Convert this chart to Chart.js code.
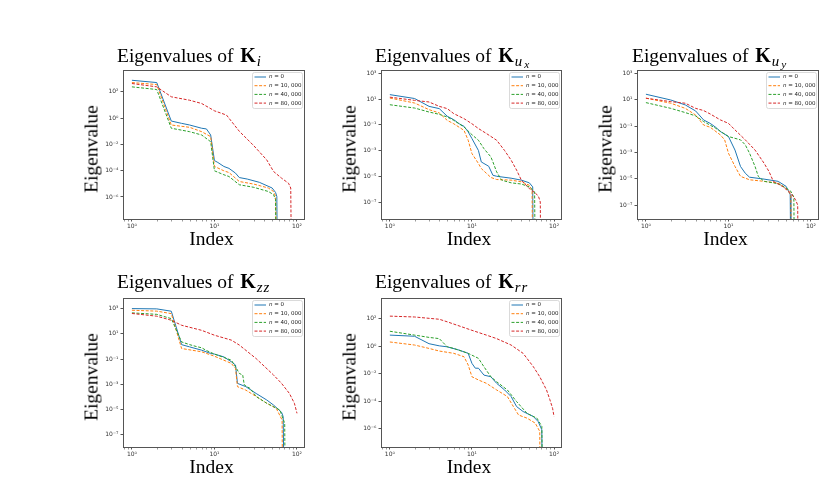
<!DOCTYPE html>
<html>
<head>
<meta charset="utf-8">
<script src="https://cdn.jsdelivr.net/npm/chart.js@4.4.0/dist/chart.umd.min.js"></script>
<style>
  body { margin: 0; background: #fff; width: 825px; height: 481px; overflow: hidden; position: relative; font-family: "Liberation Serif", serif; }
  .panel { position: absolute; }
  .txt { position: absolute; font-size: 19px; line-height: 19px; white-space: nowrap; color: #000; }
  .ttl { font-size: 19.5px; }
  .ttl b { margin-left: 2px; font-size: 20px; }
  .txt sub { font-style: italic; font-size: 76%; vertical-align: -4px; line-height: 0; margin-left: 1px; letter-spacing: 1px; }
  .txt sub sub { font-size: 76%; vertical-align: -2px; }
  .ylab { transform: translate(-50%, -50%) rotate(-90deg); font-size: 19.5px; }
  .xlab { transform: translateX(-50%); font-size: 19.5px; }
</style>
</head>
<body>
<script>
// legend labels
const seriesLabels = ["n = 0", "n = 10, 000", "n = 40, 000", "n = 80, 000"];
// tick exponents (labels are 10^e)
const xExp = [0, 1, 2];
const kiYExp = [2, 0, -2, -4, -6];
const kuxYExp = [3, 1, -1, -3, -5, -7];
const kuyYExp = [3, 1, -1, -3, -5, -7];
const kzzYExp = [3, 1, -1, -3, -5, -7];
const krrYExp = [2, 0, -2, -4, -6];

// [index, eigenvalue]
const kiN0 = [[1, 760], [2, 510], [3, 0.60], [4, 0.40], [5, 0.30], [7, 0.17], [8, 0.15], [9, 0.052], [10, 5.9e-4], [11, 4.2e-4], [13, 2.1e-4], [15, 1.5e-4], [18, 6.5e-5], [20, 3.0e-5], [25, 2.3e-5], [35, 1.3e-5], [50, 4.8e-6], [55, 2.2e-6], [57, 1.1e-6], [58, 1e-12]];
const kiN10k = [[1, 510], [2, 360], [3, 0.30], [5, 0.20], [7, 0.093], [9, 0.039], [10, 2.1e-4], [13, 9.8e-5], [15, 7.2e-5], [20, 1.5e-5], [30, 9.5e-6], [45, 4.8e-6], [52, 2.6e-6], [55, 1.1e-6], [57, 1e-12]];
const kiN40k = [[1, 240], [2, 150], [3, 0.17], [5, 0.093], [7, 0.052], [9, 0.016], [10, 9.8e-5], [13, 4.9e-5], [15, 3.6e-5], [20, 8.5e-6], [30, 5.4e-6], [45, 2.6e-6], [52, 1.5e-6], [55, 6.2e-7], [56, 1e-12]];
const kiN80k = [[1, 430], [2, 240], [3, 42], [5, 23], [7, 13], [10, 3.6], [14, 1.7], [20, 0.1], [30, 7.9e-3], [43, 6.6e-4], [52, 8.7e-5], [65, 2.7e-5], [79, 1.1e-5], [84, 4.8e-6], [86, 1e-12]];

const kuxN0 = [[1, 22], [2, 11], [3, 2.7], [4, 1.8], [5, 0.46], [6, 0.25], [7, 0.12], [8, 0.076], [9, 0.028], [10, 8.5e-3], [12, 1.0e-3], [13, 1.3e-4], [14, 9.8e-5], [16, 6.0e-5], [18, 1.2e-5], [20, 1.0e-5], [30, 7.1e-6], [40, 5.0e-6], [50, 3.1e-6], [55, 1.5e-6], [56, 1e-12]];
const kuxN10k = [[1, 12], [2, 4.9], [3, 1.5], [4, 0.83], [5, 0.22], [6, 0.12], [8, 0.037], [9, 6.3e-3], [10, 5.8e-4], [12, 9.8e-5], [13, 4.0e-5], [15, 1.7e-5], [17, 8.1e-6], [20, 5.6e-6], [30, 5.0e-6], [40, 3.7e-6], [50, 2.0e-6], [54, 8.3e-7], [55, 1e-12]];
const kuxN40k = [[1, 3.6], [2, 2.0], [3, 0.98], [4, 0.65], [5, 0.40], [6, 0.22], [8, 0.068], [10, 0.017], [12, 6.3e-3], [14, 1.4e-3], [17, 3.2e-4], [18, 1.3e-4], [20, 2.2e-5], [23, 5.0e-6], [30, 3.1e-6], [40, 2.5e-6], [50, 1.5e-6], [58, 6.2e-7], [59, 1e-12]];
const kuxN80k = [[1, 14], [2, 7.9], [3, 5.9], [4, 2.7], [5, 1.8], [6, 0.74], [8, 0.30], [10, 0.12], [12, 0.051], [15, 0.021], [20, 6.3e-3], [25, 1.0e-3], [30, 1.8e-4], [35, 3.0e-5], [40, 5.0e-6], [50, 1.1e-6], [60, 4.7e-7], [65, 2.5e-7], [68, 1e-7], [69, 1e-12]];

const kuyN0 = [[1, 26], [2, 9.5], [3, 4.0], [4, 1.4], [5, 0.29], [6, 0.16], [7, 0.081], [8, 0.038], [10, 0.016], [12, 1.5e-3], [14, 8.5e-5], [16, 2.6e-5], [18, 1.3e-5], [27, 9.3e-6], [40, 6.3e-6], [50, 2.6e-6], [56, 6.0e-7], [57, 1e-12]];
const kuyN10k = [[1, 13], [2, 5.4], [3, 2.2], [4, 0.69], [5, 0.12], [6, 0.081], [8, 0.021], [9, 8.9e-3], [10, 8.7e-4], [12, 8.5e-5], [14, 1.5e-5], [18, 8.3e-6], [27, 6.3e-6], [40, 4.7e-6], [50, 1.9e-6], [57, 6.0e-7], [58, 1e-12]];
const kuyN40k = [[1, 6.0], [2, 2.2], [3, 1.05], [4, 0.59], [5, 0.22], [7, 0.068], [10, 0.016], [14, 8.9e-3], [16, 3.7e-3], [18, 8.7e-4], [21, 8.5e-5], [23, 1.5e-5], [27, 6.3e-6], [40, 4.2e-6], [50, 1.9e-6], [57, 1.1e-6], [62, 4.0e-7], [63, 1e-12]];
const kuyN80k = [[1, 13], [2, 7.1], [3, 5.4], [4, 2.2], [5, 1.5], [6, 0.83], [8, 0.29], [10, 0.16], [12, 0.051], [16, 8.9e-3], [21, 1.5e-3], [27, 1.5e-4], [31, 3.5e-5], [35, 6.3e-6], [45, 2.6e-6], [57, 8.1e-7], [65, 2.5e-7], [69, 1e-7], [70, 1e-12]];

const kzzN0 = [[1, 1000], [2, 950], [3, 620], [4, 1.4], [5, 0.93], [7, 0.51], [9, 0.28], [10, 0.25], [13, 0.15], [16, 0.062], [18, 0.034], [19, 1.2e-3], [24, 6.6e-4], [32, 1.9e-4], [43, 5.8e-5], [52, 2.3e-5], [65, 6.2e-6], [68, 2.8e-6], [70, 1e-12]];
const kzzN10k = [[1, 740], [2, 630], [3, 400], [4, 0.69], [7, 0.38], [10, 0.17], [16, 0.046], [18, 0.018], [19, 6.6e-4], [24, 3.5e-4], [32, 1.1e-4], [43, 3.2e-5], [56, 1.3e-5], [66, 1.5e-6], [67, 1e-12]];
const kzzN40k = [[1, 460], [2, 350], [3, 160], [4, 2.3], [5, 1.4], [6, 1.0], [7, 0.79], [8, 0.48], [10, 0.25], [16, 0.083], [18, 0.025], [20, 7.4e-3], [22, 5.5e-3], [23, 8.9e-4], [27, 4.8e-4], [32, 1.1e-4], [43, 3.2e-5], [62, 9.3e-6], [71, 8.3e-7], [72, 1e-12]];
const kzzN80k = [[1, 410], [2, 250], [3, 120], [4, 48], [7, 19], [10, 7.8], [16, 3.2], [20, 1.3], [32, 0.11], [52, 5.5e-3], [65, 1.2e-3], [81, 1.9e-4], [93, 3.2e-5], [100, 5.1e-6]];

const krrN0 = [[1, 6.3], [2, 5.2], [3, 1.5], [4, 1.05], [5, 0.89], [7, 0.51], [9, 0.30], [10, 0.056], [11, 0.025], [12, 0.025], [14, 7.9e-3], [17, 6.0e-3], [20, 2.0e-3], [25, 6.6e-4], [30, 2.2e-4], [35, 4.1e-5], [42, 1.8e-5], [56, 7.8e-6], [64, 3.4e-6], [71, 8.5e-7], [72, 1e-12]];
const krrN10k = [[1, 2.0], [2, 1.2], [3, 0.68], [4, 0.44], [6, 0.30], [8, 0.17], [9, 0.043], [10, 6.0e-3], [12, 3.5e-3], [15, 2.0e-3], [20, 6.6e-4], [27, 2.2e-4], [32, 4.1e-5], [37, 1.0e-5], [47, 5.9e-6], [59, 2.6e-6], [67, 6.5e-7], [68, 1e-12]];
const krrN40k = [[1, 12], [2, 6.3], [3, 4.3], [4, 3.5], [5, 0.89], [6, 0.68], [9, 0.30], [10, 0.22], [12, 0.13], [14, 0.032], [17, 6.0e-3], [20, 2.6e-3], [27, 6.6e-4], [35, 9.5e-5], [47, 1.3e-5], [62, 5.9e-6], [71, 1.5e-6], [73, 1e-12]];
const krrN80k = [[1, 150], [2, 130], [4, 89], [5, 58], [10, 14], [15, 6.3], [20, 3.5], [30, 1.2], [42, 0.30], [56, 0.032], [67, 6.0e-3], [81, 6.6e-4], [89, 1.3e-4], [96, 3.1e-5], [100, 7.8e-6]];

const colors = ["#1f77b4", "#ff7f0e", "#2ca02c", "#d62728"];

const panels = [
  { box: [123, 70, 181, 149], yMin: 2.1e-8, yMax: 4.6e3, yExp: kiYExp, series: [kiN0, kiN10k, kiN40k, kiN80k], title: 'Eigenvalues of <b>K</b><sub>i</sub>', tx: 117, ty: 46 },
  { box: [381, 70, 180, 149], yMin: 4.8e-9, yMax: 1.8e3, yExp: kuxYExp, series: [kuxN0, kuxN10k, kuxN40k, kuxN80k], title: 'Eigenvalues of <b>K</b><sub>u<sub>x</sub></sub>', tx: 375, ty: 46 },
  { box: [637, 70, 181, 149], yMin: 8.7e-9, yMax: 1.8e3, yExp: kuyYExp, series: [kuyN0, kuyN10k, kuyN40k, kuyN80k], title: 'Eigenvalues of <b>K</b><sub>u<sub>y</sub></sub>', tx: 632, ty: 46 },
  { box: [123, 298, 181, 149], yMin: 1.1e-8, yMax: 6.9e3, yExp: kzzYExp, series: [kzzN0, kzzN10k, kzzN40k, kzzN80k], title: 'Eigenvalues of <b>K</b><sub>zz</sub>', tx: 117, ty: 272 },
  { box: [381, 298, 180, 149], yMin: 4.8e-8, yMax: 3.1e3, yExp: krrYExp, series: [krrN0, krrN10k, krrN40k, krrN80k], title: 'Eigenvalues of <b>K</b><sub>rr</sub>', tx: 375, ty: 272 }
];

const SUP = { "0": "⁰", "1": "¹", "2": "²", "3": "³", "4": "⁴", "5": "⁵", "6": "⁶", "7": "⁷", "8": "⁸", "9": "⁹", "-": "⁻" };
function powLabel(v) {
  const e = String(Math.round(Math.log10(v)));
  return "10" + e.split("").map(c => SUP[c]).join("");
}

// full box around the axes, minor x ticks, legend in the upper right
const frameLegend = {
  id: "frameLegend",
  afterDatasetsDraw(chart) {
    const a = chart.chartArea;
    const ctx = chart.ctx;
    const xs = chart.scales.x;
    ctx.save();
    ctx.strokeStyle = "#555";
    ctx.lineWidth = 1;
    ctx.strokeRect(Math.round(a.left) + 0.5, Math.round(a.top) + 0.5, Math.round(a.right - a.left), Math.round(a.bottom - a.top));

    // minor ticks of the log x axis
    ctx.lineWidth = 0.6;
    ctx.beginPath();
    [0.1, 1, 10, 100].forEach(d => {
      for (let k = 2; k <= 9; k++) {
        const v = d * k;
        if (v < xs.min || v > xs.max) continue;
        const px = Math.round(xs.getPixelForValue(v)) + 0.5;
        ctx.moveTo(px, a.bottom + 1);
        ctx.lineTo(px, a.bottom + 2.5);
      }
    });
    ctx.stroke();

    const w = 50, h = 36;
    const bx = a.right - 2 - w, by = a.top + 2;
    ctx.fillStyle = "rgba(255,255,255,0.85)";
    ctx.strokeStyle = "#d0d0d0";
    ctx.lineWidth = 0.8;
    ctx.beginPath();
    ctx.roundRect(bx + 0.5, by + 0.5, w, h, 2);
    ctx.fill();
    ctx.stroke();

    chart.data.datasets.forEach((ds, i) => {
      const y = by + 5 + i * 8.7;
      ctx.strokeStyle = ds.borderColor;
      ctx.lineWidth = 1;
      ctx.setLineDash(ds.borderDash || []);
      ctx.beginPath();
      ctx.moveTo(bx + 2.5, y);
      ctx.lineTo(bx + 14, y);
      ctx.stroke();
      ctx.setLineDash([]);
      ctx.fillStyle = "#222";
      ctx.textBaseline = "middle";
      ctx.font = "italic 5.5px 'DejaVu Sans'";
      ctx.fillText("n", bx + 17, y);
      const nw = ctx.measureText("n").width;
      ctx.font = "5.5px 'DejaVu Sans'";
      ctx.fillText(ds.label.slice(1), bx + 17 + nw, y);
    });
    ctx.restore();
  }
};

const PAD_L = 40, PAD_T = 6, PAD_R = 10, PAD_B = 16;

panels.forEach(p => {
  const [left, top, w, h] = p.box;
  const div = document.createElement("div");
  div.className = "panel";
  div.style.left = (left - PAD_L) + "px";
  div.style.top = (top - PAD_T) + "px";
  const cv = document.createElement("canvas");
  cv.width = w + PAD_L + PAD_R;
  cv.height = h + PAD_T + PAD_B;
  div.appendChild(cv);
  document.body.appendChild(div);

  const t = document.createElement("div");
  t.className = "txt ttl";
  t.style.left = p.tx + "px";
  t.style.top = p.ty + "px";
  t.innerHTML = p.title;
  document.body.appendChild(t);

  const yl = document.createElement("div");
  yl.className = "txt ylab";
  yl.style.left = (left - 32.5) + "px";
  yl.style.top = (top + h / 2 + 4) + "px";
  yl.textContent = "Eigenvalue";
  document.body.appendChild(yl);

  const xl = document.createElement("div");
  xl.className = "txt xlab";
  xl.style.left = (left + w / 2 - 2) + "px";
  xl.style.top = (top + h + 10) + "px";
  xl.textContent = "Index";
  document.body.appendChild(xl);

  const tickFont = { family: "'DejaVu Sans'", size: 6 };

  new Chart(cv, {
    type: "line",
    data: {
      datasets: p.series.map((s, i) => ({
        label: seriesLabels[i],
        data: s.map(d => ({ x: d[0], y: d[1] })),
        borderColor: colors[i],
        borderWidth: 1,
        borderDash: i === 0 ? [] : [3, 1.6],
        pointRadius: 0,
        tension: 0,
        fill: false,
        order: 3 - i
      }))
    },
    options: {
      responsive: false,
      animation: false,
      devicePixelRatio: 1,
      layout: { padding: { top: PAD_T, right: PAD_R, left: 0, bottom: 0 } },
      plugins: { legend: { display: false }, tooltip: { enabled: false } },
      scales: {
        x: {
          type: "logarithmic",
          min: 0.78,
          max: 121.6,
          afterBuildTicks: s => { s.ticks = xExp.map(e => ({ value: Math.pow(10, e) })); },
          afterFit: s => { s.height = PAD_B; },
          ticks: { font: tickFont, color: "#333", padding: 1, autoSkip: false, maxRotation: 0, callback: v => powLabel(v) },
          grid: { display: true, drawOnChartArea: false, drawTicks: true, tickLength: 2.5, color: "#555" },
          border: { display: false }
        },
        y: {
          type: "logarithmic",
          min: p.yMin,
          max: p.yMax,
          afterBuildTicks: s => { s.ticks = p.yExp.map(e => ({ value: Math.pow(10, e) })); },
          afterFit: s => { s.width = PAD_L; },
          ticks: { font: tickFont, color: "#333", padding: 2, autoSkip: false, callback: v => powLabel(v) },
          grid: { display: true, drawOnChartArea: false, drawTicks: true, tickLength: 2.5, color: "#555" },
          border: { display: false }
        }
      }
    },
    plugins: [frameLegend]
  });
});
</script>
</body>
</html>
